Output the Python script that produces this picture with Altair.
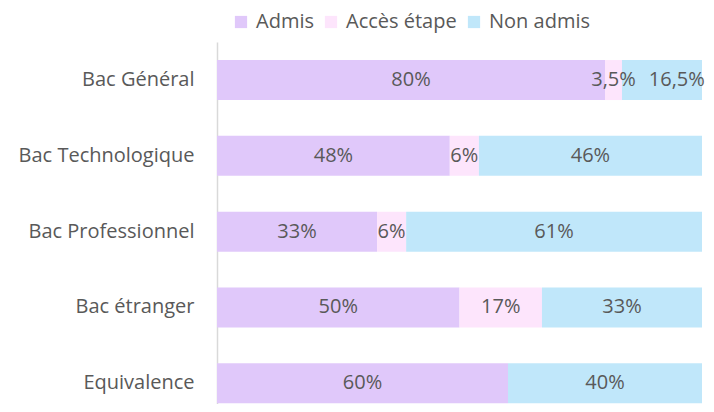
import altair as alt
import pandas as pd

categories = ["Bac Général", "Bac Technologique", "Bac Professionnel", "Bac étranger", "Equivalence"]
statuses = ["Admis", "Accès étape", "Non admis"]
admis = [80, 48, 33, 50, 60]
acces = [3.5, 6, 6, 17, 0]
non_admis = [16.5, 46, 61, 33, 40]
colors = ["#E0C8FA", "#FDE5FC", "#C0E7FA"]

rows = []
for i, c in enumerate(categories):
    for j, (s, vals) in enumerate(zip(statuses, [admis, acces, non_admis])):
        v = vals[i]
        lab = (f"{v:g}%").replace(".", ",")
        rows.append({"cat": c, "status": s, "order": j, "value": v, "label": lab})
df = pd.DataFrame(rows)

FONT = "Open Sans"
TXT = "#595959"
FS = 20

base = alt.Chart(df).transform_stack(
    stack="value", as_=["v0", "v1"], groupby=["cat"], sort=[alt.SortField("order")]
).transform_calculate(
    mid="datum.order == 2 && datum.value < 20 ? datum.v1 - 5.2 : (datum.v0 + datum.v1) / 2"
)

y = alt.Y("cat:N", sort=categories, title=None,
          scale=alt.Scale(paddingInner=0.472, paddingOuter=0.124, align=0.96),
          axis=alt.Axis(labelFont=FONT, labelFontSize=FS, labelColor=TXT, ticks=False,
                        domainColor="#D9D9D9", domainWidth=1.5, labelPadding=23))

bars = base.mark_bar().encode(
    y=y,
    x=alt.X("v0:Q", scale=alt.Scale(domain=[0, 100], nice=False), axis=None),
    x2="v1:Q",
    color=alt.Color("status:N", sort=statuses,
                    scale=alt.Scale(domain=statuses, range=colors),
                    legend=alt.Legend(title=None, orient="none", direction="horizontal",
                                      legendX=14, legendY=-30, symbolType="square",
                                      symbolSize=150, symbolStrokeWidth=0,
                                      labelFont=FONT, labelFontSize=FS, labelColor=TXT,
                                      columnPadding=7, labelOffset=5)),
)

labels = base.transform_filter("datum.value > 0").mark_text(
    font=FONT, fontSize=FS, color=TXT, baseline="middle", align="center"
).encode(
    y=alt.Y("cat:N", sort=categories),
    x=alt.X("mid:Q"),
    text="label:N",
)

chart = (bars + labels).properties(
    width=485, height=362,
    autosize=alt.AutoSizeParams(type="none"),
    padding={"left": 209, "top": 34, "right": 4, "bottom": 0},
).configure_view(stroke=None)

chart.save("out.html", embed_options={"renderer": "svg", "actions": False})
